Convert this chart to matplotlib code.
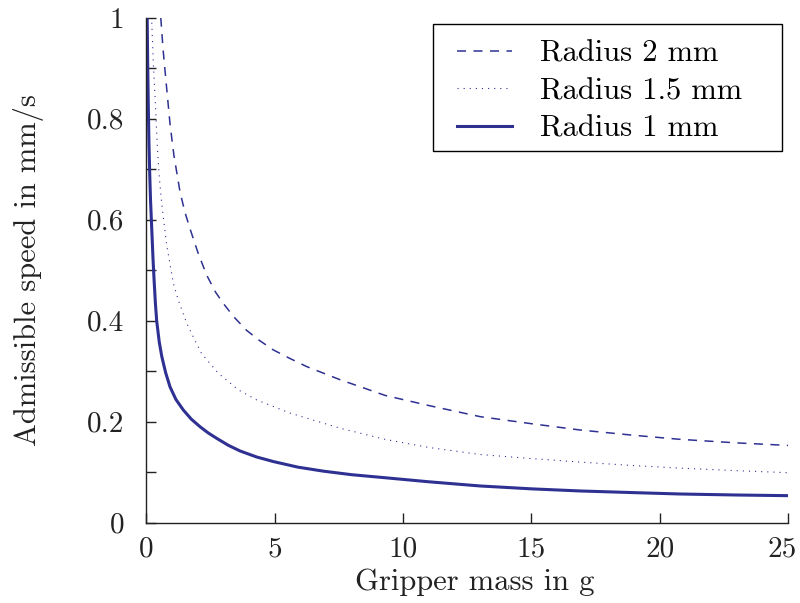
import numpy as np
import matplotlib
matplotlib.use("Agg")
import matplotlib.pyplot as plt
from matplotlib.patches import Rectangle
from matplotlib.transforms import ScaledTranslation

plt.rcParams['font.family'] = 'serif'
plt.rcParams['font.serif'] = ['cmr10']
plt.rcParams['mathtext.fontset'] = 'cm'
plt.rcParams['axes.formatter.use_mathtext'] = True

# values (gripper mass in g -> speed in mm/s)
mass_r2 = [0.56, 0.65, 0.79, 0.92, 1.07, 1.31, 1.5, 1.70, 2.02, 2.35, 2.7, 3.0,
           3.4, 3.9, 4.4, 4.95, 5.6, 6.25, 6.9, 7.55, 8.4, 9.3, 11.0, 13.0,
           15.0, 16.9, 19.0, 20.8, 23.0, 25.0]
speed_r2 = [1.0, 0.937, 0.86, 0.79, 0.728, 0.655, 0.615, 0.582, 0.533, 0.490,
            0.456, 0.434, 0.408, 0.381, 0.361, 0.342, 0.325, 0.309, 0.296,
            0.283, 0.268, 0.252, 0.232, 0.210, 0.196, 0.1835, 0.173, 0.165,
            0.158, 0.153]

mass_r15 = [0.21, 0.27, 0.34, 0.43, 0.51, 0.60, 0.79, 1.05, 1.24, 1.57, 1.9,
            2.15, 2.80, 3.58, 4.3, 5.6, 7.55, 9.3, 11.0, 13.0, 15.0, 16.9,
            19.0, 20.8, 23.0, 25.0]
speed_r15 = [0.99, 0.91, 0.84, 0.74, 0.68, 0.63, 0.55, 0.474, 0.441, 0.395,
             0.36, 0.335, 0.296, 0.263, 0.243, 0.217, 0.187, 0.165, 0.149,
             0.135, 0.127, 0.120, 0.113, 0.108, 0.103, 0.099]

mass_r1 = [0.03, 0.05, 0.07, 0.10, 0.13, 0.16, 0.21, 0.26, 0.30, 0.35, 0.40,
           0.50, 0.60, 0.75, 0.92, 1.15, 1.44, 1.75, 2.09, 2.4, 2.74, 3.2,
           3.65, 4.3, 4.95, 5.9, 6.9, 8.0, 9.3, 11.0, 13.0, 15.0, 16.9, 19.0,
           20.8, 23.0, 25.0]
speed_r1 = [1.0, 0.91, 0.84, 0.75, 0.69, 0.64, 0.58, 0.52, 0.48, 0.435, 0.40,
            0.358, 0.329, 0.297, 0.269, 0.244, 0.223, 0.205, 0.190, 0.178,
            0.167, 0.153, 0.142, 0.130, 0.121, 0.110, 0.102, 0.095, 0.089,
            0.081, 0.0727, 0.067, 0.0628, 0.0595, 0.0568, 0.0548, 0.0535]

labels = ['Radius 2 mm', 'Radius 1.5 mm', 'Radius 1 mm']

x_ticks = [0, 5, 10, 15, 20, 25]
x_tick_labels = ['0', '5', '10', '15', '20', '25']
y_ticks = [0, 0.1, 0.2, 0.3, 0.4, 0.5, 0.6, 0.7, 0.8, 0.9, 1.0]
y_tick_labels = ['0', '', '0.2', '', '0.4', '', '0.6', '', '0.8', '', '1']

color = '#2E3192'

fig = plt.figure(figsize=(8, 6.03), dpi=100)
ax = fig.add_axes([0.183, 0.1332, 0.802, 0.8375])

ax.plot(mass_r2, speed_r2, color=color, linewidth=1.1,
        linestyle=(0, (5.9, 4.9)), label=labels[0])
ax.plot(mass_r15, speed_r15, color=color, linewidth=0.8,
        linestyle=(0, (1, 4.5)), label=labels[1])
ax.plot(mass_r1, speed_r1, color=color, linewidth=2.2,
        linestyle='-', label=labels[2])

ax.set_xlim(0, 25)
ax.set_ylim(0, 1)
ax.set_xticks(x_ticks)
ax.set_xticklabels(x_tick_labels)
ax.set_yticks(y_ticks)
ax.set_yticklabels(y_tick_labels)

for side in ['top', 'right']:
    ax.spines[side].set_visible(False)
for side in ['left', 'bottom']:
    ax.spines[side].set_linewidth(1.0)
    ax.spines[side].set_color('#222222')

ax.tick_params(direction='in', length=7, width=1, colors='#222222',
               labelsize=21, labelcolor='#222222')
ax.tick_params(axis='x', pad=10)
ax.tick_params(axis='y', pad=16)

# keep the last x label inside the canvas
last = ax.get_xticklabels()[-1]
last.set_transform(last.get_transform() + ScaledTranslation(-4 / 72, 0, fig.dpi_scale_trans))

ax.set_xlabel('Gripper mass in g', fontsize=22, color='#222222')
ax.set_ylabel('Admissible speed in mm/s', fontsize=22, color='#222222')
ax.xaxis.set_label_coords(0.512, -0.09)
ax.yaxis.set_label_coords(-0.16, 0.5)

# legend box is wider than the entries (extra right margin like the original)
box = Rectangle((0.4467, 0.736), 0.5439, 0.2515, transform=ax.transAxes,
                facecolor='white', edgecolor='black', linewidth=1.0,
                clip_on=False, zorder=4)
ax.add_patch(box)
leg = ax.legend(loc='upper left', bbox_to_anchor=(0.4654, 0.9796),
                borderaxespad=0, frameon=False, fontsize=22,
                handlelength=1.8, handletextpad=0.9, labelspacing=0.33,
                borderpad=0.4)
leg.set_zorder(5)

fig.savefig('out.png', dpi=100)
